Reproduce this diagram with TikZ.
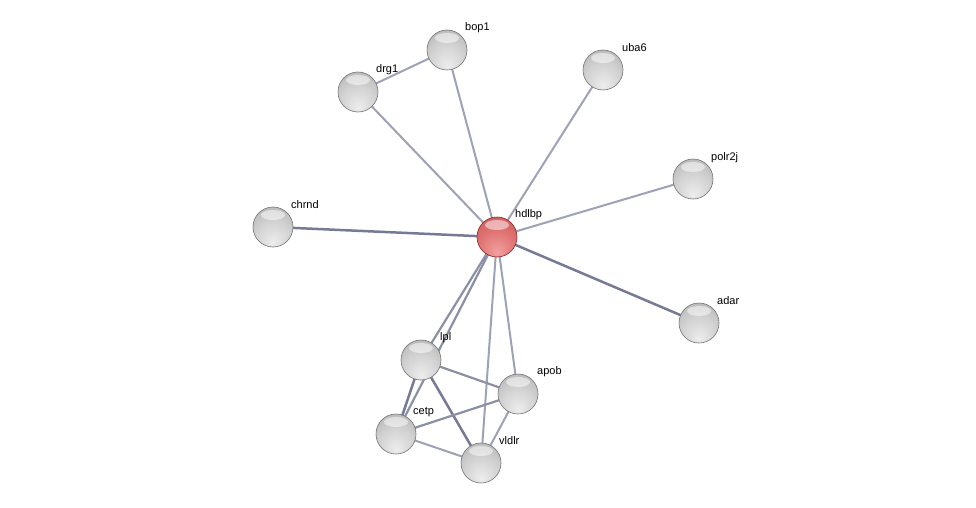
\documentclass[tikz,border=0pt]{standalone}
\usepackage{fontspec}
\setmainfont{Liberation Sans}
\usetikzlibrary{backgrounds}
\definecolor{ea}{RGB}{158,162,182}
\definecolor{eb}{RGB}{140,144,166}
\definecolor{ec}{RGB}{118,122,148}
\definecolor{r0}{RGB}{242,160,160}
\definecolor{r1}{RGB}{222,112,112}
\definecolor{r2}{RGB}{196,80,80}
\definecolor{r3}{RGB}{140,36,36}
\pgfdeclareradialshading{greysphere}{\pgfpoint{0bp}{-20bp}}{color(0bp)=(black!7); color(22bp)=(black!18); color(44bp)=(black!32); color(60bp)=(black!48); color(70bp)=(black!66)}
\pgfdeclareradialshading{redsphere}{\pgfpoint{0bp}{-20bp}}{color(0bp)=(r0); color(24bp)=(r1); color(48bp)=(r2); color(70bp)=(r3)}
\begin{document}
\begin{tikzpicture}[x=1pt,y=-1pt,
  ball/.style={circle, minimum size=40pt, inner sep=0pt, draw=black!55, line width=0.6pt, shading=greysphere,
    path picture={\fill[white,opacity=.5] ([yshift=12pt]path picture bounding box.center) ellipse (12 and 5);}},
  redball/.style={ball, draw=r3, shading=redsphere},
  lbl/.style={anchor=west, inner sep=0pt, font=\fontsize{11}{13}\selectfont},
  edge/.style={draw=ea, line width=2pt},
  mid/.style={draw=eb, line width=2.2pt},
  strong/.style={draw=ec, line width=2.5pt}]
\useasboundingbox (0,0) rectangle (976,508);

\node[redball] (hdlbp) at (497,237) {};
\node[ball] (bop1) at (447,50) {};
\node[ball] (drg1) at (358,92) {};
\node[ball] (uba6) at (603,70) {};
\node[ball] (polr2j) at (693,179) {};
\node[ball] (chrnd) at (273,227) {};
\node[ball] (adar) at (699,323) {};
\node[ball] (lpl) at (421,360) {};
\node[ball] (apob) at (518,394) {};
\node[ball] (cetp) at (396,434) {};
\node[ball] (vldlr) at (481,463) {};

\node[lbl] (l-hdlbp) at (515,215) {hdlbp};
\node[lbl] (l-bop1) at (465,28) {bop1};
\node[lbl] (l-drg1) at (376,70) {drg1};
\node[lbl] (l-uba6) at (622,48) {uba6};
\node[lbl] (l-polr2j) at (711,158) {polr2j};
\node[lbl] (l-chrnd) at (291,205) {chrnd};
\node[lbl] (l-adar) at (717,301) {adar};
\node[lbl] (l-lpl) at (440,338) {lpl};
\node[lbl] (l-apob) at (537,372) {apob};
\node[lbl] (l-cetp) at (413,412) {cetp};
\node[lbl] (l-vldlr) at (499,441) {vldlr};

\begin{scope}[on background layer]
\fill[white] (0,0) rectangle (976,508);
\path[edge] (bop1.center) -- (drg1.center);
\path[edge] (drg1.center) -- (hdlbp.center);
\path[edge] (bop1.center) -- (hdlbp.center);
\path[edge] (uba6.center) -- (hdlbp.center);
\path[edge] (polr2j.center) -- (hdlbp.center);
\path[strong] (chrnd.center) -- (hdlbp.center);
\path[strong] (adar.center) -- (hdlbp.center);
\path[mid] (hdlbp.center) -- (lpl.center);
\path[mid] (hdlbp.center) -- (cetp.center);
\path[edge] (hdlbp.center) -- (apob.center);
\path[edge] (hdlbp.center) -- (vldlr.center);
\path[mid] (lpl.center) -- (apob.center);
\path[strong] (lpl.center) -- (cetp.center);
\path[strong] (lpl.center) -- (vldlr.center);
\path[mid] (cetp.center) -- (apob.center);
\path[edge] (cetp.center) -- (vldlr.center);
\path[edge] (apob.center) -- (vldlr.center);
\end{scope}
\end{tikzpicture}
\end{document}
